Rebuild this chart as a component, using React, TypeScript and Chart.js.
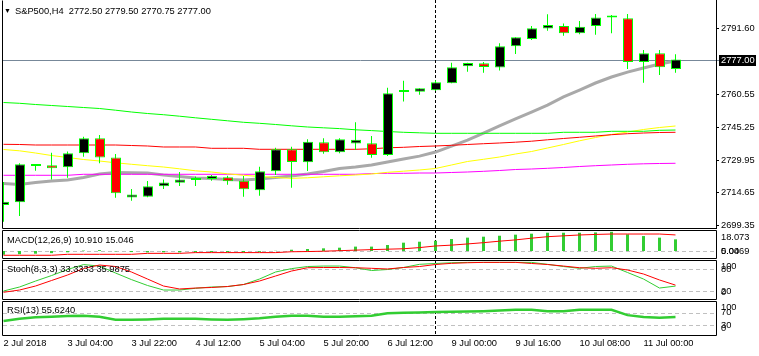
import React, { useEffect, useRef } from "react";
import { Chart, registerables } from "chart.js";

Chart.register(...registerables);

// ---------------- data ----------------
const TIME_LABELS = [
  "2 Jul 2018", "3 Jul 04:00", "3 Jul 22:00", "4 Jul 12:00", "5 Jul 04:00", "5 Jul 20:00",
  "6 Jul 12:00", "9 Jul 00:00", "9 Jul 16:00", "10 Jul 08:00", "11 Jul 00:00",
];
const LABEL_BARS = [0, 4, 8, 12, 16, 20, 24, 28, 32, 36, 40];

const OPEN = [
  2708.9, 2710.2, 2727.2, 2727.5, 2726.6, 2733.1, 2740.1, 2731.2, 2712.4, 2712.8,
  2717.7, 2719.3, 2720.6, 2721.1, 2721.9, 2720.3, 2715.8, 2724.7, 2735.0, 2728.9,
  2738.3, 2733.6, 2737.7, 2737.8, 2732.3, 2761.8, 2761.9, 2762.6, 2765.9, 2773.9,
  2775.2, 2773.2, 2783.2, 2786.6, 2791.5, 2792.7, 2789.3, 2792.7, 2796.6, 2796.3,
  2775.8, 2779.9, 2772.5,
];
const HIGH = [
  2719.7, 2728.4, 2728.1, 2733.4, 2734.0, 2740.9, 2741.7, 2732.8, 2716.4, 2720.2,
  2720.9, 2724.4, 2722.2, 2723.0, 2722.6, 2722.5, 2726.8, 2735.7, 2736.2, 2739.7,
  2740.1, 2740.1, 2747.6, 2741.2, 2763.8, 2767.1, 2763.5, 2767.3, 2775.5, 2775.5,
  2775.8, 2784.6, 2787.4, 2792.7, 2798.2, 2793.9, 2795.0, 2798.3, 2797.8, 2798.3,
  2781.4, 2781.4, 2779.5,
];
const LOW = [
  2701.1, 2703.8, 2725.0, 2720.9, 2721.7, 2731.5, 2728.4, 2712.3, 2710.9, 2712.5,
  2716.4, 2717.8, 2717.8, 2720.3, 2718.4, 2712.8, 2713.3, 2723.0, 2717.0, 2724.8,
  2732.9, 2733.1, 2734.7, 2731.0, 2731.8, 2757.3, 2760.5, 2762.4, 2765.9, 2771.3,
  2770.8, 2771.8, 2779.6, 2786.1, 2790.5, 2788.1, 2788.8, 2788.6, 2789.3, 2772.6,
  2766.1, 2769.7, 2770.75,
];
const CLOSE = [
  2710.5, 2728.0, 2727.4, 2726.1, 2733.1, 2740.1, 2731.2, 2714.4, 2713.8, 2717.7,
  2719.4, 2720.8, 2720.8, 2722.6, 2720.0, 2716.3, 2724.7, 2735.0, 2729.0, 2738.5,
  2733.6, 2739.7, 2739.5, 2732.3, 2761.2, 2762.0, 2763.6, 2766.3, 2773.4, 2775.4,
  2773.5, 2783.2, 2787.4, 2791.6, 2793.2, 2789.3, 2792.3, 2796.7, 2796.8, 2775.8,
  2779.9, 2773.4, 2777.0,
];

const MA_GRAY = [
  2718.98, 2718.5, 2719.45, 2720.15, 2720.6, 2721.8, 2723.4, 2724.1, 2724.0, 2723.9,
  2722.96, 2722.3, 2721.6, 2721.3, 2720.8, 2720.6, 2721.1, 2721.8, 2722.5, 2723.4,
  2724.6, 2726.0, 2726.7, 2727.6, 2729.0, 2730.4, 2731.8, 2733.7, 2736.5, 2739.3,
  2742.6, 2745.9, 2749.2, 2752.4, 2755.7, 2759.5, 2762.7, 2766.0, 2768.8, 2771.1,
  2773.0, 2774.9, 2776.3,
];
const MA_GREEN = [
  2756.88, 2756.51, 2755.94, 2755.48, 2755.01, 2754.54, 2754.07, 2753.28, 2752.43, 2751.73,
  2751.17, 2750.47, 2749.72, 2749.02, 2748.32, 2747.62, 2747.15, 2746.59, 2745.98, 2745.42,
  2745.04, 2744.67, 2744.11, 2743.73, 2743.31, 2742.94, 2742.70, 2742.47, 2742.47, 2742.47,
  2742.47, 2742.47, 2742.47, 2742.47, 2742.47, 2742.94, 2742.94, 2742.94, 2743.40, 2743.40,
  2743.40, 2743.87, 2744.0,
];
const MA_RED = [
  2737.32, 2737.23, 2736.99, 2736.99, 2736.99, 2736.99, 2736.99, 2736.99, 2736.76, 2736.53,
  2736.06, 2736.06, 2736.06, 2735.45, 2735.45, 2735.45, 2734.98, 2734.98, 2734.98, 2734.98,
  2734.98, 2734.98, 2734.98, 2735.22, 2735.68, 2735.92, 2736.29, 2736.53, 2736.85, 2737.23,
  2737.60, 2737.93, 2738.31, 2738.77, 2739.43, 2740.04, 2740.60, 2741.21, 2741.82, 2742.28,
  2742.61, 2742.84, 2742.94,
];
const MA_YELLOW = [
  2734.89, 2734.28, 2733.25, 2732.08, 2731.15, 2730.21, 2729.51, 2728.67, 2727.97, 2727.31,
  2726.70, 2725.86, 2724.92, 2724.36, 2723.52, 2722.82, 2722.26, 2721.79, 2721.41, 2721.65,
  2722.12, 2722.58, 2722.96, 2723.43, 2724.22, 2724.74, 2725.30, 2726.00, 2727.64, 2729.28,
  2730.31, 2731.38, 2732.78, 2733.95, 2735.59, 2737.23, 2738.96, 2740.50, 2741.91, 2743.08,
  2744.25, 2745.18, 2745.89,
];
const MA_MAGENTA = [
  2722.82, 2722.82, 2722.82, 2722.82, 2722.82, 2723.29, 2723.29, 2723.29, 2723.29, 2723.29,
  2723.29, 2723.29, 2723.29, 2723.29, 2723.29, 2723.29, 2723.29, 2723.29, 2723.29, 2723.29,
  2723.29, 2723.29, 2723.29, 2723.61, 2723.75, 2723.75, 2723.89, 2723.89, 2724.13, 2724.36,
  2724.69, 2725.06, 2725.53, 2725.76, 2726.09, 2726.47, 2726.93, 2727.31, 2727.64, 2727.97,
  2728.20, 2728.34, 2728.44,
];

const MACD_MAIN = [
  -3.5, -3.0, -2.5, -2.0, -1.2, 0.4, 0.8, -0.3, -1.0, -1.3,
  -1.2, -1.3, -1.2, -1.0, -1.1, -1.3, -0.8, 0.2, 1.2, 1.9,
  2.5, 3.1, 4.1, 4.1, 5.6, 7.8, 8.7, 9.6, 11.2, 12.5,
  13.4, 14.3, 15.3, 16.2, 17.1, 17.1, 17.1, 17.4, 18.0, 15.6,
  14.0, 12.5, 10.91,
];
const MACD_SIGNAL = [
  -4.0, -4.0, -4.0, -4.0, -3.1, -3.1, -3.1, -3.1, -3.1, -2.2,
  -2.2, -2.2, -1.5, -1.5, -1.5, -1.5, -1.5, -1.5, -0.7, -0.5,
  -0.2, 0.3, 0.8, 1.3, 1.7, 2.1, 3.2, 4.7, 5.5, 6.6,
  7.8, 9.2, 10.4, 12.0, 13.4, 14.2, 15.0, 15.5, 15.9, 15.9,
  15.9, 15.9, 15.05,
];
const STOCH_MAIN = [
  19.9, 30.8, 47, 62, 78.5, 92, 88, 69, 51, 35,
  22.6, 22.6, 27.3, 30.8, 32, 37.6, 52.6, 71.7, 81, 86.7,
  88, 88, 83.4, 75.8, 78.5, 84, 92.7, 95, 97, 98,
  98, 98, 98, 98, 92.7, 86.7, 81.8, 86.7, 88, 70.4,
  52.6, 28, 33.33,
];
const STOCH_SIGNAL = [
  16.4, 22.6, 33.5, 48.5, 63.5, 81.3, 90.8, 86.7, 71.7, 52.6,
  33.5, 25.4, 28, 29.5, 32.2, 37.6, 47.2, 60.8, 74.4, 83.4,
  84, 84, 83.4, 81.8, 80, 84, 86.7, 92.2, 95.4, 97,
  98, 98, 98, 95, 92.2, 88, 83.4, 81.8, 83.4, 77.2,
  66.3, 50, 35.99,
];
const RSI = [
  43, 50, 55, 57, 59, 60, 57, 47, 47, 48,
  50, 50, 50, 48, 47, 49, 52, 57, 60, 60,
  57, 57, 58, 60, 68, 70, 70.5, 72, 73, 74,
  75, 77, 79.5, 79.5, 74.3, 74.3, 79.5, 79.5, 79.5, 62,
  56, 53.5, 55.62,
];

const PRICE_TICKS = [2699.35, 2714.65, 2729.95, 2745.25, 2760.55, 2791.6];
const BID = 2777.0;
const HEADER = "S&P500,H4  2772.50 2779.50 2770.75 2777.00";
const MACD_TITLE = "MACD(12,26,9) 10.910 15.046";
const STOCH_TITLE = "Stoch(8,3,3) 33.3333 35.9875";
const RSI_TITLE = "RSI(13) 55.6240";
const SEP_BAR = 27;

// ---------------- layout ----------------
const W = 759;
const H = 356;
const FAMILY = '"Liberation Sans", "DejaVu Sans", Arial, sans-serif';
const FS = 9.3;
const FONT = `${FS}px ${FAMILY}`;
const AXIS_W = 43;
const LEFT = 2;

const BARS = OPEN.map((_, i) => i);

const xBody = () => ({
  type: "linear", axis: "x", display: false, offset: false, bounds: "data",
  min: -0.125, max: 44.5,
});
const xWickHidden = () => ({
  type: "linear", axis: "x", display: false, offset: false, bounds: "data",
  min: -0.09375, max: 44.53125,
});
const xWickShown = () => ({
  type: "linear", axis: "x", display: true, offset: false, bounds: "data",
  min: -0.09375, max: 44.53125,
  position: "bottom",
  afterBuildTicks: (s: any) => { s.ticks = LABEL_BARS.map((v) => ({ value: v })); },
  afterFit: (s: any) => { s.height = 21; s.paddingLeft = 0; s.paddingRight = 0; },
  ticks: {
    autoSkip: false, maxRotation: 0, minRotation: 0, align: "start", padding: 3,
    color: "#000", font: { family: FAMILY, size: FS },
    callback: (v: any) => {
      const idx = LABEL_BARS.indexOf(Number(v));
      return idx >= 0 ? TIME_LABELS[idx] : "";
    },
  },
  grid: { display: false, drawTicks: false, tickLength: 0 },
  border: { display: false },
});

interface LabelSpec { text: string; value?: number; y?: number }
interface PanelSpec {
  title: string;
  titleY: number;
  levels: number[];
  labels: LabelSpec[];
  bid?: number;
  main?: boolean;
}

function makePlugin(spec: PanelSpec) {
  return {
    id: "mt4panel",
    beforeDatasetsDraw(chart: any) {
      const { ctx, chartArea: a } = chart;
      const yS = chart.scales.y;
      const xS = chart.scales.xw;
      ctx.save();
      ctx.lineWidth = 1;
      ctx.strokeStyle = "#C0C0C0";
      ctx.setLineDash([4, 3]);
      for (const v of spec.levels) {
        const y = Math.round(yS.getPixelForValue(v)) + 0.5;
        ctx.beginPath();
        ctx.moveTo(a.left + 1, y);
        ctx.lineTo(a.right, y);
        ctx.stroke();
      }
      if (spec.bid !== undefined) {
        ctx.setLineDash([]);
        ctx.strokeStyle = "#778899";
        const y = Math.round(yS.getPixelForValue(spec.bid)) + 0.5;
        ctx.beginPath();
        ctx.moveTo(a.left, y);
        ctx.lineTo(a.right + 3, y);
        ctx.stroke();
      }
      ctx.setLineDash([3, 2]);
      ctx.strokeStyle = "#000";
      const x = Math.floor(xS.getPixelForValue(SEP_BAR)) + 0.5;
      ctx.beginPath();
      ctx.moveTo(x, a.top);
      ctx.lineTo(x, a.bottom);
      ctx.stroke();
      ctx.restore();
    },
    afterDatasetsDraw(chart: any) {
      const { ctx, chartArea: a } = chart;
      const yS = chart.scales.y;
      ctx.save();
      ctx.setLineDash([]);
      ctx.strokeStyle = "#000";
      ctx.lineWidth = 1;
      const L = a.left + 0.5, R = a.right + 0.5, T = a.top + 0.5, B = a.bottom + 0.5;
      ctx.beginPath();
      if (!spec.main) { ctx.moveTo(L, T); ctx.lineTo(R, T); }
      ctx.moveTo(L, T); ctx.lineTo(L, B); ctx.lineTo(R, B); ctx.lineTo(R, T);
      ctx.stroke();

      ctx.fillStyle = "#000";
      ctx.font = FONT;
      ctx.textBaseline = "middle";
      ctx.textAlign = "left";
      if (spec.main) {
        ctx.font = `7px ${FAMILY}`;
        ctx.fillText("▼", 4, spec.titleY);
        ctx.font = FONT;
        ctx.fillText(spec.title, 15, spec.titleY);
      } else {
        ctx.fillText(spec.title, 7, spec.titleY);
      }
      for (const lb of spec.labels) {
        const y = lb.y !== undefined ? lb.y : yS.getPixelForValue(lb.value);
        ctx.fillText(lb.text, a.right + 5, y);
      }
      if (spec.bid !== undefined) {
        const y = Math.round(yS.getPixelForValue(spec.bid));
        ctx.fillStyle = "#000";
        ctx.fillRect(a.right + 3, y - 5, 37, 11);
        ctx.fillStyle = "#fff";
        ctx.fillText(spec.bid.toFixed(2), a.right + 5, y + 0.5);
      }
      ctx.restore();
    },
  };
}

const baseOptions = (padTop: number, padBottom: number, padRight: number) => ({
  responsive: false,
  animation: false,
  devicePixelRatio: 1,
  events: [],
  layout: { autoPadding: false, padding: { left: LEFT, right: padRight, top: padTop, bottom: padBottom } },
  plugins: { legend: { display: false }, tooltip: { enabled: false }, title: { display: false } },
});

const lineDs = (data: number[], color: string, width: number, order: number) => ({
  type: "line",
  data: BARS.map((i) => ({ x: i, y: data[i] })),
  xAxisID: "xw",
  yAxisID: "y",
  borderColor: color,
  backgroundColor: color,
  borderWidth: width,
  pointRadius: 0,
  tension: 0,
  fill: false,
  order,
});

export default function App() {
  const mainRef = useRef<HTMLCanvasElement>(null);
  const macdRef = useRef<HTMLCanvasElement>(null);
  const stochRef = useRef<HTMLCanvasElement>(null);
  const rsiRef = useRef<HTMLCanvasElement>(null);

  useEffect(() => {
    const charts: Chart[] = [];

    // ---- main price panel ----
    const bodyColors = BARS.map((i) => (CLOSE[i] >= OPEN[i] ? "#000000" : "#FF0000"));
    charts.push(new Chart(mainRef.current as HTMLCanvasElement, {
      type: "bar",
      data: {
        datasets: [
          {
            type: "bar",
            data: BARS.map((i) => ({ x: i, y: [OPEN[i], CLOSE[i]] })),
            xAxisID: "x", yAxisID: "y",
            backgroundColor: bodyColors,
            borderColor: "#00FF00",
            borderWidth: 1,
            borderSkipped: false,
            barThickness: 10,
            minBarLength: 2,
            grouped: false,
            inflateAmount: 0,
            order: 0,
          } as any,
          {
            type: "bar",
            data: BARS.map((i) => ({ x: i, y: [LOW[i], HIGH[i]] })),
            xAxisID: "xw", yAxisID: "y",
            backgroundColor: "#00FF00",
            borderWidth: 0,
            barThickness: 1,
            grouped: false,
            inflateAmount: 0,
            order: 1,
          } as any,
          lineDs(MA_GRAY, "#A9A9A9", 3, 10) as any,
          lineDs(MA_GREEN, "#00FF00", 1, 5) as any,
          lineDs(MA_RED, "#FF0000", 1, 5) as any,
          lineDs(MA_YELLOW, "#FFFF00", 1, 5) as any,
          lineDs(MA_MAGENTA, "#FF00FF", 1, 5) as any,
        ],
      },
      options: {
        ...baseOptions(0, H - 228, 0),
        scales: {
          x: xBody(),
          xw: xWickHidden(),
          y: {
            type: "linear", position: "right", bounds: "data",
            min: 2698.16, max: 2804.84,
            afterBuildTicks: (s: any) => { s.ticks = PRICE_TICKS.map((v) => ({ value: v })); },
            afterFit: (s: any) => { s.width = AXIS_W; s.paddingTop = 0; s.paddingBottom = 0; },
            ticks: {
              autoSkip: false, padding: 2, color: "#000",
              font: { family: FAMILY, size: FS },
              callback: (v: any) => Number(v).toFixed(2),
            },
            grid: { drawOnChartArea: false, drawTicks: true, tickLength: 3, color: "#000" },
            border: { display: true, color: "#000" },
          },
        },
      } as any,
      plugins: [makePlugin({
        title: HEADER, titleY: 11, levels: [], labels: [], bid: BID, main: true,
      })],
    }));

    // ---- MACD ----
    charts.push(new Chart(macdRef.current as HTMLCanvasElement, {
      type: "bar",
      data: {
        datasets: [
          {
            type: "bar",
            data: BARS.map((i) => ({ x: i, y: MACD_MAIN[i] })),
            xAxisID: "xw", yAxisID: "y",
            backgroundColor: "#32CD32",
            borderWidth: 0,
            barThickness: 3,
            grouped: false,
            inflateAmount: 0,
            order: 1,
          } as any,
          lineDs(MACD_SIGNAL, "#FF0000", 1, 0) as any,
        ],
      },
      options: {
        ...baseOptions(230, H - 258, AXIS_W),
        scales: {
          xw: xWickHidden(),
          y: { type: "linear", display: false, bounds: "data", min: -6.55, max: 19.66 },
        },
      } as any,
      plugins: [makePlugin({
        title: MACD_TITLE, titleY: 240, levels: [0],
        labels: [{ text: "18.073", y: 237 }, { text: "0.00", value: 0 }, { text: "5.0469", value: 0 }],
      })],
    }));

    // ---- Stochastic ----
    charts.push(new Chart(stochRef.current as HTMLCanvasElement, {
      type: "line",
      data: {
        datasets: [
          lineDs(STOCH_MAIN, "#32CD32", 1, 1) as any,
          lineDs(STOCH_SIGNAL, "#FF0000", 1, 0) as any,
        ],
      },
      options: {
        ...baseOptions(260, H - 299, AXIS_W),
        scales: {
          xw: xWickHidden(),
          y: { type: "linear", display: false, bounds: "data", min: -1.9, max: 104.5 },
        },
      } as any,
      plugins: [makePlugin({
        title: STOCH_TITLE, titleY: 269.5, levels: [80, 20],
        labels: [
          { text: "100", y: 266.5 }, { text: "80", value: 80 },
          { text: "20", value: 20 }, { text: "0", y: 292 },
        ],
      })],
    }));

    // ---- RSI ----
    charts.push(new Chart(rsiRef.current as HTMLCanvasElement, {
      type: "line",
      data: {
        datasets: [lineDs(RSI, "#32CD32", 2.5, 0) as any],
      },
      options: {
        ...baseOptions(301, 0, AXIS_W),
        scales: {
          xw: xWickShown(),
          y: { type: "linear", display: false, bounds: "data", min: -2.6, max: 108 },
        },
      } as any,
      plugins: [makePlugin({
        title: RSI_TITLE, titleY: 310, levels: [70, 30],
        labels: [
          { text: "100", y: 307.5 }, { text: "70", value: 70 },
          { text: "30", value: 30 }, { text: "0", y: 328.5 },
        ],
      })],
    }));

    return () => { charts.forEach((c) => c.destroy()); };
  }, []);

  const cs: React.CSSProperties = { position: "absolute", left: 0, top: 0, width: W, height: H };
  return (
    <div style={{ position: "fixed", left: 0, top: 0, width: W, height: H, background: "#fff", overflow: "hidden" }}>
      <canvas ref={mainRef} width={W} height={H} style={cs} />
      <canvas ref={macdRef} width={W} height={H} style={cs} />
      <canvas ref={stochRef} width={W} height={H} style={cs} />
      <canvas ref={rsiRef} width={W} height={H} style={cs} />
    </div>
  );
}
